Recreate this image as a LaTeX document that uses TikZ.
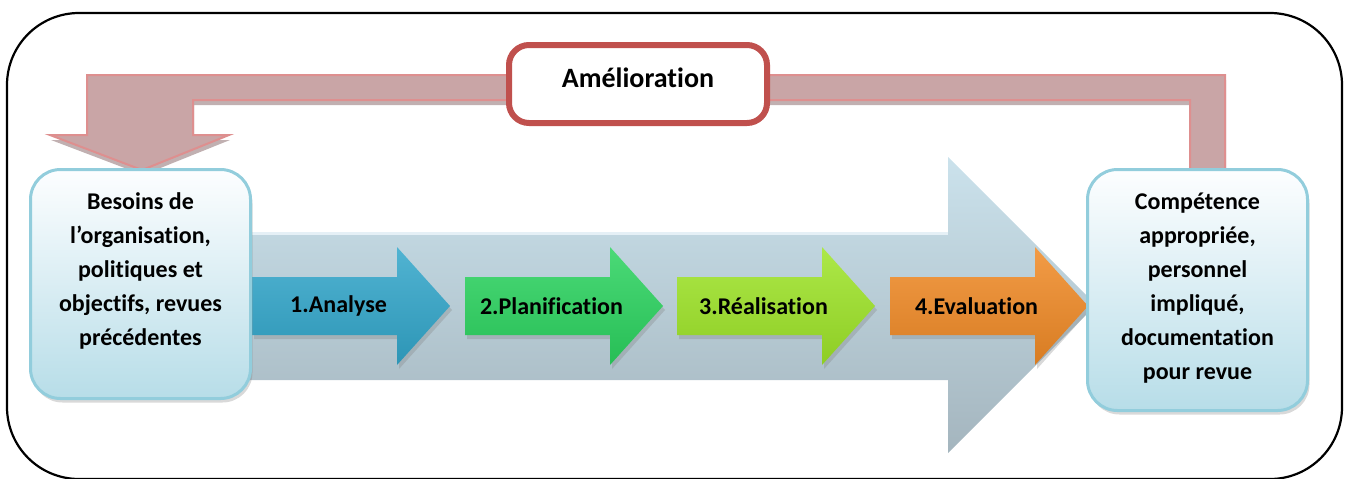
\documentclass[tikz,border=0pt]{standalone}
\usepackage{fontspec}
\setmainfont{Carlito}[Ligatures=NoCommon, Contextuals=NoAlternate]
\usetikzlibrary{shadows}

\definecolor{frameblue}{RGB}{146,205,220}
\definecolor{boxtop}{RGB}{253,254,255}
\definecolor{boxbot}{RGB}{183,221,232}
\definecolor{loopfill}{RGB}{201,165,166}
\definecolor{loopedge}{RGB}{222,143,143}
\definecolor{loopred}{RGB}{192,80,77}
\definecolor{bigtop}{RGB}{203,226,236}
\definecolor{bigbot}{RGB}{164,181,190}
\definecolor{analyse}{RGB}{50,166,202}
\definecolor{planif}{RGB}{43,211,95}
\definecolor{realis}{RGB}{158,228,40}
\definecolor{evalu}{RGB}{240,138,38}

\tikzset{
  inbox/.style={draw=frameblue, line width=1.5pt, rounded corners=15pt,
    top color=boxtop, bottom color=boxbot, minimum width=110pt,
    drop shadow={opacity=0.3, shadow xshift=1pt, shadow yshift=-2pt}},
  boxtext/.style={align=center, font=\fontsize{12}{17}\selectfont\bfseries},
  steplabel/.style={font=\fontsize{12}{14}\selectfont\bfseries}
}

\begin{document}
\begin{tikzpicture}[x=0.5pt,y=-0.5pt]
    \useasboundingbox (0,0) rectangle (1348,478);
    % outer frame
    \draw[line width=1.1pt, rounded corners=36pt] (7,13) rectangle (1342,479);
    % feedback loop
    \draw[loopedge, fill=loopfill, line width=1pt,
        drop shadow={fill=loopfill!75!black, opacity=0.6, shadow xshift=0.5pt, shadow yshift=-2.5pt}]
        (1225,75) -- (87,75) -- (87,135) -- (50,135) -- (142,170) -- (229,135) -- (193,135)
        -- (193,100) -- (1190,100) -- (1190,170) -- (1225,170) -- cycle;
    \node[draw=loopred, line width=3pt, rounded corners=10pt, fill=white,
        minimum width=129pt, minimum height=39pt, text height=10pt, text depth=7pt,
        font=\fontsize{14}{16}\selectfont\bfseries] (amelioration) at (638,84) {Amélioration};
    % big process arrow
    \path[top color=bigtop, bottom color=bigbot]
        (240,232) -- (948,232) -- (948,157) -- (1096,305) -- (948,453) -- (948,380) -- (240,380) -- cycle;
    \draw[white!50!bigtop, line width=1.5pt] (252,233) -- (948,233);
    % stages
    \foreach \x/\col/\txt [count=\i] in {252/analyse/1.Analyse, 465/planif/2.Planification,
            677/realis/3.Réalisation, 890/evalu/4.Evaluation} {
        \path[top color=\col!85!white, bottom color=\col!90!black,
            drop shadow={opacity=0.3, shadow xshift=1pt, shadow yshift=-2pt}]
            (\x,277) -- ++(145,0) -- ++(0,-30) -- ++(53,59) -- ++(-53,59) -- ++(0,-30) -- ++(-145,0) -- cycle;
        \node[steplabel] (stage\i) at (\x+86.5,306) {\txt};
    }
    % input and output
    \node[inbox, minimum height=114.5pt] (besoins) at (140.5,284) {};
    \node[boxtext] (besoinstext) at ([yshift=6.5pt]besoins.center)
        {Besoins de\\l’organisation,\\politiques et\\objectifs, revues\\précédentes};
    \node[inbox, minimum height=120.5pt] (competence) at (1197.5,290) {};
    \node[boxtext] (competencetext) at ([yshift=0.75pt]competence.center)
        {Compétence\\appropriée,\\personnel\\impliqué,\\documentation\\pour revue};
\end{tikzpicture}
\end{document}
